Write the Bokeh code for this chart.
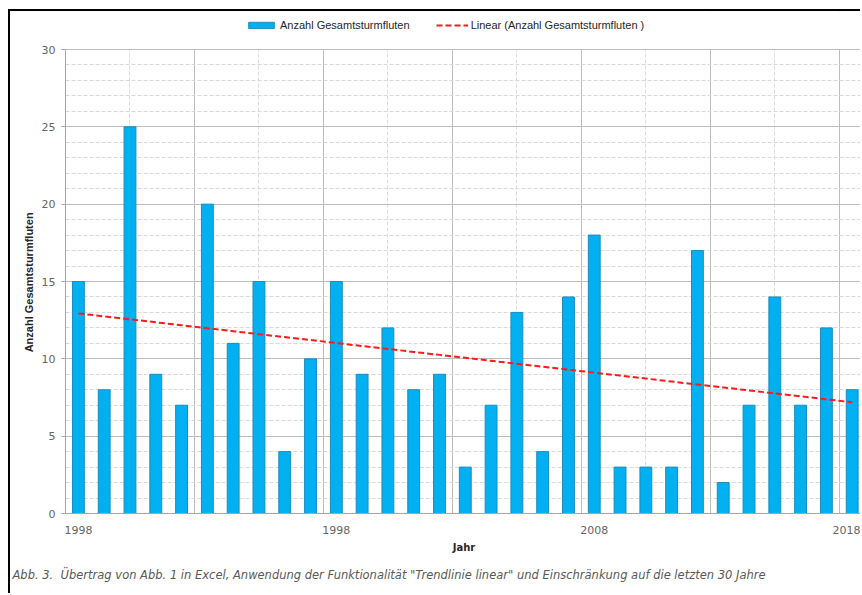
from bokeh.plotting import figure
from bokeh.models import Range1d, FixedTicker, Legend, LegendItem, Title, BoxAnnotation
from bokeh.embed import file_html
from bokeh.resources import INLINE
import numpy as np

# ---- data ----
years = list(range(1988, 2019))
counts = [15, 8, 25, 9, 7, 20, 11, 15, 4, 10, 15, 9, 12, 8, 9, 3, 7, 13, 4,
          14, 18, 3, 3, 3, 17, 2, 7, 14, 7, 12, 8]
x_tick_values = [1988, 1998, 2008, 2018]
x_tick_labels = ["1998", "1998", "2008", "2018"]
y_ticks = [0, 5, 10, 15, 20, 25, 30]
series_label = "Anzahl Gesamtsturmfluten"
trend_label = "Linear (Anzahl Gesamtsturmfluten )"
caption = ("Abb. 3.\u00a0 Übertrag von Abb. 1 in Excel, Anwendung der Funktionalität "
           "\"Trendlinie linear\" und Einschränkung auf die letzten 30 Jahre")

# linear trend (least squares) from the data
slope, intercept = np.polyfit(years, counts, 1)
trend = [slope * y + intercept for y in years]

y_max = y_ticks[-1]
# frame extends above the axis maximum to host the legend (38px headroom)
headroom = 38 * y_max / 464.0

p = figure(width=852, height=584, output_backend="svg", toolbar_location=None,
           x_range=Range1d(years[0] - 0.5, years[0] - 0.5 + 30.9),
           y_range=Range1d(0, y_max + headroom),
           min_border_left=55, min_border_right=0, min_border_top=0,
           min_border_bottom=82,
           background_fill_color="white", border_fill_color="white",
           styles={"margin-left": "8px", "margin-top": "9px",
                   "border-left": "2px solid black", "border-top": "2px solid black"})
p.outline_line_color = None

bars = p.vbar(x=years, top=counts, width=0.46, fill_color="#00b0f0",
              line_color="#1a8cc0", line_width=1)
trend_r = p.line(years, trend, line_color="#ff1a1a", line_width=2, line_dash="6 3")

# white mask over the headroom so grid lines stop at the top of the value axis
p.add_layout(BoxAnnotation(bottom=y_max + 0.04, fill_color="white", fill_alpha=1.0,
                           line_color=None, level="glyph"))

# ---- y axis / horizontal grid ----
yt = FixedTicker(ticks=y_ticks, minor_ticks=list(range(0, y_max + 1)))
p.yaxis.ticker = yt
p.yaxis.bounds = (0, y_max)
p.ygrid.ticker = yt
p.ygrid.grid_line_color = "#bdbdbd"
p.ygrid.grid_line_width = 1
p.ygrid.minor_grid_line_color = "#d9d9d9"
p.ygrid.minor_grid_line_dash = "4 2"
p.yaxis.axis_line_color = "#a6a6a6"
p.yaxis.major_tick_line_color = "#a6a6a6"
p.yaxis.major_tick_out = 4
p.yaxis.major_tick_in = 0
p.yaxis.minor_tick_line_color = None
p.yaxis.major_label_text_font = "DejaVu Sans"
p.yaxis.major_label_text_font_size = "11px"
p.yaxis.major_label_text_color = "#666666"
p.yaxis.major_label_standoff = 6
# trailing no-break spaces shift the centred label down to the middle of 0..30
p.yaxis.axis_label = series_label + "\u00a0" * 13
p.yaxis.axis_label_text_font = "Liberation Sans"
p.yaxis.axis_label_text_font_style = "bold"
p.yaxis.axis_label_text_font_size = "11px"
p.yaxis.axis_label_text_color = "#262626"
p.yaxis.axis_label_standoff = 4

# ---- x axis / vertical grid ----
p.xaxis.ticker = FixedTicker(ticks=x_tick_values)
p.xaxis.major_label_overrides = dict(zip(x_tick_values, x_tick_labels))
p.xaxis.axis_line_color = "#a6a6a6"
p.xaxis.major_tick_line_color = None
p.xaxis.minor_tick_line_color = None
p.xaxis.major_label_text_font = "DejaVu Sans"
p.xaxis.major_label_text_font_size = "11px"
p.xaxis.major_label_text_color = "#666666"
p.xaxis.major_label_standoff = 6
p.xaxis.axis_label = "Jahr"
p.xaxis.axis_label_text_font = "DejaVu Sans"
p.xaxis.axis_label_text_font_style = "bold"
p.xaxis.axis_label_text_font_size = "10px"
p.xaxis.axis_label_text_color = "#262626"
p.xaxis.axis_label_standoff = 5

first = years[0] - 0.5
p.xgrid.ticker = FixedTicker(ticks=[first + 5 * k for k in range(7)],
                             minor_ticks=[first + 2.5 + 5 * k for k in range(6)])
p.xgrid.grid_line_color = "#bdbdbd"
p.xgrid.minor_grid_line_color = "#dcdcdc"
p.xgrid.minor_grid_line_dash = "4 2"

# ---- legend (top, inside the headroom) ----
legend = Legend(items=[LegendItem(label=series_label, renderers=[bars]),
                       LegendItem(label=trend_label, renderers=[trend_r])],
                orientation="horizontal", location=(180, 482),
                glyph_width=32, glyph_height=8, label_standoff=3, spacing=26,
                padding=0, margin=0, border_line_color=None,
                background_fill_alpha=0,
                label_text_font="Liberation Sans",
                label_text_font_size="11px", label_text_color="#262626")
p.add_layout(legend)

# ---- caption ----
p.add_layout(Title(text=caption, align="left", offset=-53, standoff=20,
                   text_font="DejaVu Sans", text_font_style="italic",
                   text_font_size="11.5px", text_color="#595959"), "below")

open("out.html", "w").write(file_html(p, INLINE))
